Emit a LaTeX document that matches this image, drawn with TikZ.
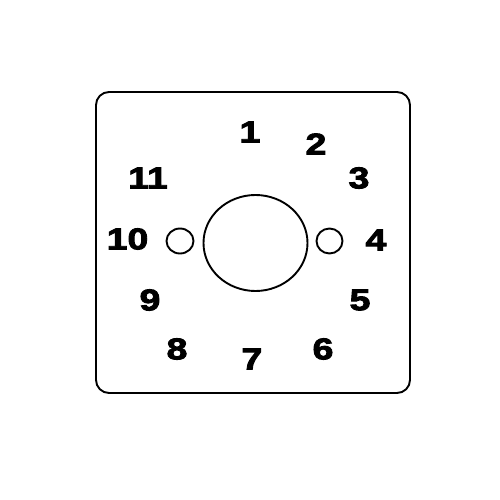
\documentclass[tikz,border=0pt]{standalone}
\usepackage{fontspec}
\setmainfont{Liberation Sans}
\newfontfamily\numfont[FakeStretch=1.25,FakeBold=3]{Liberation Sans Bold}
\usetikzlibrary{shapes.geometric}
\begin{document}
\begin{tikzpicture}[x=1pt,y=-1pt,
  outline/.style={draw=black,line width=1.9pt},
  num/.style={font=\numfont\fontsize{30}{30}\selectfont,inner sep=0pt,anchor=center}]
\useasboundingbox[fill=white] (0,0) rectangle (500,500);
\draw[outline,rounded corners=13pt] (96,92) rectangle (410,393);
\node[outline,ellipse,minimum width=104pt,minimum height=96pt,inner sep=0pt] (hole) at (255.5,243) {};
\node[outline,ellipse,minimum width=27pt,minimum height=25pt,inner sep=0pt] (lh) at (180,241) {};
\node[outline,ellipse,minimum width=26pt,minimum height=25pt,inner sep=0pt] (rh) at (329.5,241) {};
\node[num] (n1) at (250,132) {1};
\node[num] (n2) at (316,144) {2};
\node[num] (n3) at (359,178) {3};
\node[num] (n4) at (376,240) {4};
\node[num] (n5) at (360,300) {5};
\node[num] (n6) at (323,349) {6};
\node[num] (n7) at (252,359) {7};
\node[num] (n8) at (177,349) {8};
\node[num] (n9) at (150,300) {9};
\node[num] (n10) at (127.5,239) {10};
\node[num] (n11) at (148,178) {11};
\end{tikzpicture}
\end{document}
